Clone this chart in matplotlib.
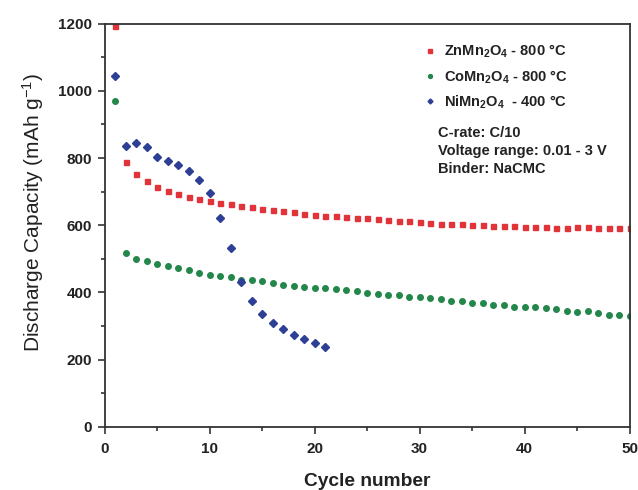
import numpy as np
import matplotlib
matplotlib.use("Agg")
import matplotlib.pyplot as plt
from matplotlib.ticker import MultipleLocator

plt.rcParams['font.family'] = ['Liberation Sans', 'DejaVu Sans']
plt.rcParams['mathtext.fontset'] = 'custom'
plt.rcParams['mathtext.rm'] = 'Liberation Sans:bold'
plt.rcParams['mathtext.it'] = 'Liberation Sans:bold'
plt.rcParams['mathtext.bf'] = 'Liberation Sans:bold'
plt.rcParams['mathtext.sf'] = 'Liberation Sans'

zn_values = [1192, 789, 753, 731, 714, 702, 692, 684, 678, 672,
             667, 663, 657, 653, 648, 645, 643, 638, 634, 631,
             629, 628, 626, 623, 621, 618, 617, 614, 612, 610,
             607, 605, 604, 603, 601, 600, 599, 598, 597, 596,
             596, 595, 593, 593, 594, 595, 591, 592, 591, 591]
co_values = [970, 518, 501, 495, 486, 479, 472, 467, 459, 453,
             448, 446, 438, 436, 433, 427, 423, 418, 415, 414,
             412, 410, 407, 403, 398, 397, 393, 393, 387, 387,
             384, 382, 376, 374, 369, 369, 364, 362, 357, 357,
             357, 354, 351, 346, 343, 344, 340, 333, 332, 329]
ni_values = [1044, 837, 844, 833, 804, 792, 780, 760, 734, 695,
             622, 532, 432, 375, 337, 310, 292, 273, 261, 250, 238]

zn_cycles = np.arange(1, len(zn_values) + 1)
co_cycles = np.arange(1, len(co_values) + 1)
ni_cycles = np.arange(1, len(ni_values) + 1)

labels = [r'ZnMn$_{\mathregular{2}}$O$_{\mathregular{4}}$ - 800 °C',
          r'CoMn$_{\mathregular{2}}$O$_{\mathregular{4}}$ - 800 °C',
          r'NiMn$_{\mathregular{2}}$O$_{\mathregular{4}}$  - 400 °C']
notes = "C-rate: C/10\nVoltage range: 0.01 - 3 V\nBinder: NaCMC"

fig = plt.figure(figsize=(6.38, 4.90), dpi=100)
ax = fig.add_axes([0.164, 0.1286, 0.823, 0.8234])

ax.plot(zn_cycles, zn_values, ls='none', marker='s', ms=3.6, color='#e0343a', label=labels[0])
ax.plot(co_cycles, co_values, ls='none', marker='o', ms=4.0, color='#23874a', label=labels[1])
ax.plot(ni_cycles, ni_values, ls='none', marker='D', ms=3.6, color='#2e4096', label=labels[2])

ax.set_xlim(0, 50)
ax.set_ylim(0, 1200)
ax.xaxis.set_major_locator(MultipleLocator(10))
ax.xaxis.set_minor_locator(MultipleLocator(5))
ax.yaxis.set_major_locator(MultipleLocator(200))
ax.yaxis.set_minor_locator(MultipleLocator(100))
ax.tick_params(which='both', direction='out', top=False, right=False, width=1.2, colors='#333333', labelcolor='#222222')
ax.tick_params(which='major', length=5, labelsize=11, pad=4)
ax.tick_params(axis='x', which='major', pad=6)
ax.tick_params(which='minor', length=3)
for lab in ax.get_xticklabels() + ax.get_yticklabels():
    lab.set_fontweight('bold')
for s in ax.spines.values():
    s.set_linewidth(1.3)
    s.set_color('#333333')

ax.set_xlabel('Cycle number', fontsize=13.8, fontweight='bold', color='#222222', labelpad=12)
ax.set_ylabel(r'Discharge Capacity (mAh g$^{\mathsf{-1}}$)', fontsize=15, fontweight='normal',
              color='#222222', labelpad=8)
ax.yaxis.set_label_coords(-0.111, 0.532)

leg = ax.legend(loc='upper left', bbox_to_anchor=(0.583, 0.985), frameon=False,
                fontsize=10.5, handlelength=0.8, handletextpad=0.6, labelspacing=0.55,
                markerscale=0.7)
for t in leg.get_texts():
    t.set_fontweight('bold')
    t.set_color('#222222')

ax.text(0.635, 0.745, notes, transform=ax.transAxes, fontsize=10.5, fontweight='bold',
        color='#222222', va='top', ha='left', linespacing=1.35)

fig.savefig('out.png', dpi=100)
